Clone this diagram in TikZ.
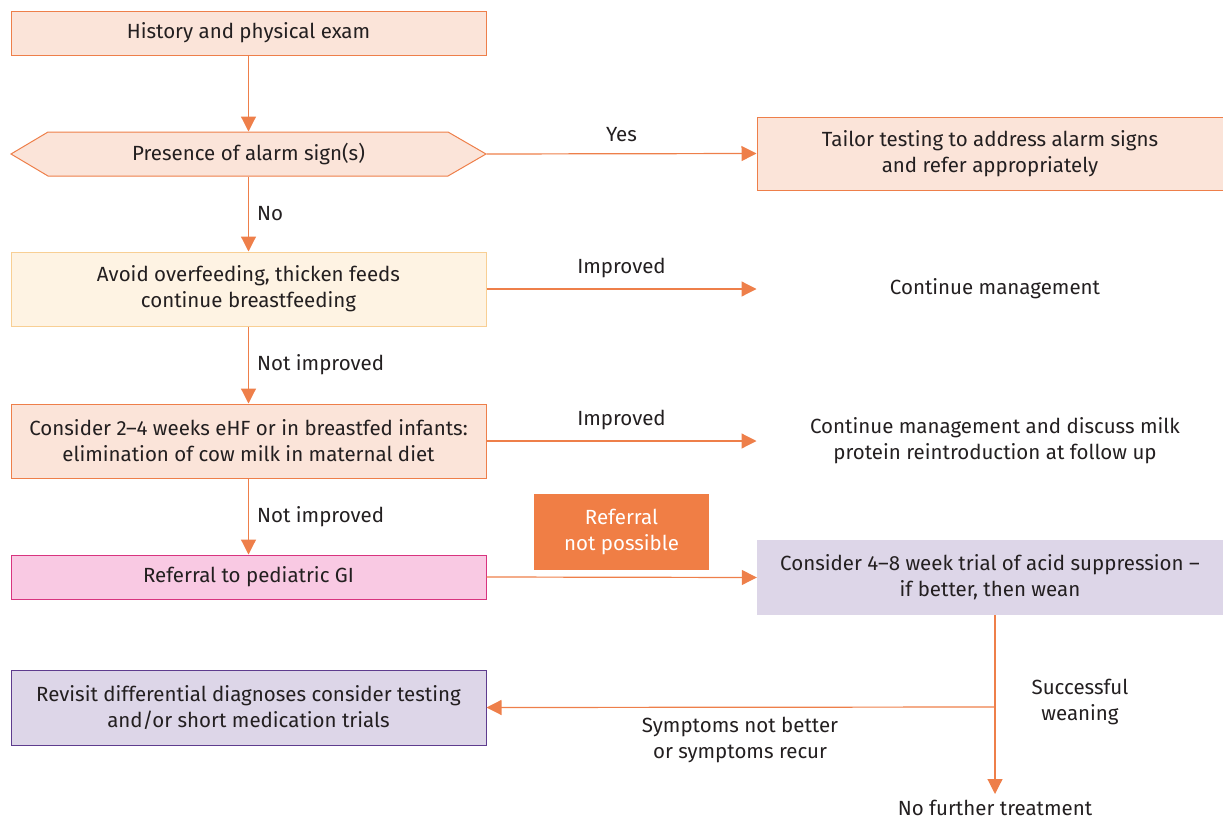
\documentclass[tikz,border=0pt]{standalone}
\usepackage{fontspec}
\setmainfont{Fira Sans}
\usetikzlibrary{arrows.meta}
\definecolor{lineor}{HTML}{EE7F4A}
\definecolor{peach}{HTML}{FBE4D9}
\definecolor{cream}{HTML}{FEF3E3}
\definecolor{creamln}{HTML}{F8CF94}
\definecolor{pinkf}{HTML}{F9C9E3}
\definecolor{pinkln}{HTML}{D8347F}
\definecolor{lav}{HTML}{DDD6E8}
\definecolor{purp}{HTML}{5E3C8E}
\definecolor{txt}{HTML}{231F20}
\definecolor{boxor}{HTML}{F07E45}
\begin{document}
\begin{tikzpicture}[x=1pt,y=-1pt,
  every node/.style={font=\fontsize{20.5}{26}\selectfont, text=txt, align=center, inner sep=0pt},
  box/.style={rectangle, minimum width=475pt, line width=1pt},
  pbox/.style={box, draw=lineor, fill=peach},
  arr/.style={draw=lineor, line width=1.2pt, -{Triangle[width=15pt,length=15pt]}},
  ln/.style={draw=lineor, line width=1.2pt}
]
\useasboundingbox (0,0) rectangle (1223,819);
% boxes
\node[pbox, minimum height=44pt] (b1) at (248.5,33) {History and physical exam};
\draw[lineor, fill=peach, line width=1pt] (11,154) -- (48,132) -- (448,132) -- (486,154) -- (448,176) -- (48,176) -- cycle;
\node[box, minimum height=44pt] (hex) at (248.5,154) {Presence of alarm sign(s)};
\node[pbox, minimum width=466pt, minimum height=73pt] (tailor) at (990,153.5) {Tailor testing to address alarm signs\\and refer appropriately};
\node[box, draw=creamln, fill=cream, minimum height=74pt] (b3) at (248.5,289) {Avoid overfeeding, thicken feeds\\continue breastfeeding};
\node (cm) at (995,289) {Continue management};
\node[pbox, minimum height=74pt] (b4) at (248.5,441) {Consider 2--4 weeks eHF or in breastfed infants:\\elimination of cow milk in maternal diet};
\node (cm2) at (995,441) {Continue management and discuss milk\\protein reintroduction at follow up};
\node[box, draw=pinkln, fill=pinkf, minimum height=44pt] (b5) at (248.5,577) {Referral to pediatric GI};
\node[rectangle, fill=boxor, minimum width=175pt, minimum height=76pt, text=white] (rnp) at (621.5,532) {Referral\\not possible};
\node[rectangle, fill=lav, minimum width=466pt, minimum height=75pt] (b6) at (990,577.5) {Consider 4--8 week trial of acid suppression --\\if better, then wean};
\node[box, draw=purp, fill=lav, minimum height=75pt] (b7) at (248.5,707.5) {Revisit differential diagnoses consider testing\\and/or short medication trials};
\node (nf) at (995,808) {No further treatment};
\coordinate (j) at (995,707);
% connectors
\draw[arr] (b1.south) -- (hex.north);
\draw[arr] (hex.east) -- (tailor.west) node[midway, above=11pt] {Yes};
\draw[arr] (hex.south) -- (b3.north) node[midway, right=8pt] {No};
\draw[arr] (b3.east) -- (b3.east -| tailor.west) node[midway, above=11pt] {Improved};
\draw[arr] (b3.south) -- (b4.north) node[midway, right=8pt] {Not improved};
\draw[arr] (b4.east) -- (b4.east -| tailor.west) node[midway, above=11pt] {Improved};
\draw[arr] (b4.south) -- (b5.north) node[midway, right=8pt] {Not improved};
\draw[arr] (b5.east) -- (b6.west);
\draw[arr] (b6.south -| nf) -- ([yshift=6pt]nf.north);
\draw[arr] (j) -- (b7.east);
\node at (740,740) {Symptoms not better\\or symptoms recur};
\node at (1080,702) {Successful\\weaning};
\end{tikzpicture}
\end{document}
